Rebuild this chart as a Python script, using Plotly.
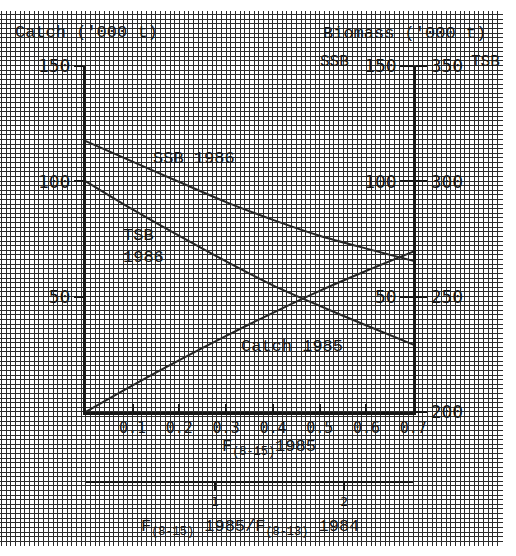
import plotly.graph_objects as go

# Fishing mortality (ages 8-15) and the projected quantities
F = [0.0, 0.1, 0.2, 0.3, 0.4, 0.5, 0.6, 0.7]
catch_1985 = [0.0, 11.5, 22.5, 33.0, 43.0, 52.5, 61.2, 69.5]      # '000 t
ssb_1986 = [117.4, 108.5, 99.7, 91.0, 83.3, 76.4, 70.8, 65.5]       # '000 t
tsb_1986 = [300.0, 287.8, 276.3, 265.3, 254.9, 246.0, 237.5, 229.2]  # '000 t

# reference mean F of 1984, used for the ratio scale under the F axis
f_1984 = 0.276

x_ticks = [0.1, 0.2, 0.3, 0.4, 0.5, 0.6, 0.7]
x_ticktext = ["0.1", "0.2", "0.3", "0.4", "0.5", "0.6", "0.7"]
catch_ticks = [50, 100, 150]
ssb_ticks = [50, 100, 150]
tsb_ticks = [200, 250, 300, 350]
ratio_ticks = [1, 2]

W, H = 516, 556
INK = "#161616"
MONO = "Liberation Mono, Courier New, monospace"
NUM = "DejaVu Sans Mono, Liberation Mono, monospace"


def px(x):
    return x / W


def py(y):
    return 1 - y / H


fig = go.Figure()

# graph-paper background: a full-page helper axis pair carrying only gridlines
fig.add_trace(go.Scatter(x=[], y=[], xaxis="x", yaxis="y",
                         hoverinfo="skip", showlegend=False))

line_style = dict(color="#262626", width=2, shape="spline", smoothing=0.8)
fig.add_trace(go.Scatter(x=F, y=catch_1985, mode="lines", line=line_style,
                         xaxis="x2", yaxis="y2", name="Catch 1985", showlegend=False))
fig.add_trace(go.Scatter(x=F, y=tsb_1986, mode="lines", line=line_style,
                         xaxis="x2", yaxis="y3", name="TSB 1986", showlegend=False))
fig.add_trace(go.Scatter(x=F, y=ssb_1986, mode="lines", line=line_style,
                         xaxis="x2", yaxis="y4", name="SSB 1986", showlegend=False))
# ratio axis holder
fig.add_trace(go.Scatter(x=[], y=[], xaxis="x3", yaxis="y2",
                         hoverinfo="skip", showlegend=False))

x_dom = [px(88), px(424)]
y_dom = [py(416.7), py(57)]
f_max = 0.7001

grid_color = "#2b2b2b"
fig.update_layout(
    width=W, height=H,
    margin=dict(l=0, r=0, t=0, b=0, pad=0),
    paper_bgcolor="white",
    plot_bgcolor="rgba(0,0,0,0)",
    showlegend=False,
    font=dict(family=MONO, color=INK, size=15),
    xaxis=dict(domain=[0, 1], range=[0, W], showgrid=True, gridcolor=grid_color,
               gridwidth=1, dtick=4.8, tick0=88, showticklabels=False,
               zeroline=False, showline=False, ticks="", fixedrange=True),
    yaxis=dict(domain=[0, 1], range=[H, 0], showgrid=True, gridcolor=grid_color,
               gridwidth=1, dtick=4.8, tick0=416.7, showticklabels=False,
               zeroline=False, showline=False, ticks="", fixedrange=True),
    xaxis2=dict(domain=x_dom, range=[0, f_max], anchor="y2",
                tickmode="array", tickvals=x_ticks, ticktext=x_ticktext,
                ticks="inside", ticklen=8, tickwidth=2, tickcolor=INK,
                showline=True, linecolor=INK, linewidth=2.5,
                showgrid=False, zeroline=False,
                tickfont=dict(family=NUM, size=15, color=INK)),
    yaxis2=dict(domain=y_dom, range=[0, 150.05], anchor="x2",
                tickmode="array", tickvals=catch_ticks,
                ticks="outside", ticklen=9, tickwidth=2, tickcolor=INK,
                showline=True, linecolor=INK, linewidth=2.5,
                showgrid=False, zeroline=False,
                tickfont=dict(family=NUM, size=18, color=INK)),
    yaxis3=dict(range=[200, 350.05], overlaying="y2", side="right", anchor="x2",
                tickmode="array", tickvals=tsb_ticks,
                ticks="outside", ticklen=11, tickwidth=2, tickcolor=INK,
                showline=True, linecolor=INK, linewidth=2.5,
                showgrid=False, zeroline=False,
                tickfont=dict(family=NUM, size=18, color=INK)),
    # SSB scale: labelled on the left-hand side of the right border
    yaxis4=dict(range=[0, 150.05], overlaying="y2", side="left",
                anchor="free", position=x_dom[1],
                tickmode="array", tickvals=ssb_ticks,
                ticks="outside", ticklen=13, tickwidth=2, tickcolor=INK,
                showline=False, showgrid=False, zeroline=False,
                tickfont=dict(family=NUM, size=18, color=INK)),
    xaxis3=dict(range=[0, f_max / f_1984], overlaying="x2", anchor="free",
                position=py(489), side="bottom",
                tickmode="array", tickvals=ratio_ticks,
                ticks="outside", ticklen=8, tickwidth=2, tickcolor=INK,
                showline=True, linecolor=INK, linewidth=2,
                showgrid=False, zeroline=False,
                tickfont=dict(family=NUM, size=13, color=INK)),
)

annotations = [
    ("Catch ('000 t)", 13, 22, 17),
    ("Biomass ('000 t)", 329, 23, 17),
    ("SSB", 326, 53, 16),
    ("TSB", 481, 53, 16),
    ("SSB 1986", 155, 153, 17),
    ("TSB<br>1986", 124, 245, 17),
    ("Catch 1985", 245, 349, 17),
    ("F<sub>(8-15)</sub>1985", 226, 454, 17),
    ("F\u0304<sub>(8-15)</sub> 1985/F\u0304<sub>(8-13)</sub> 1984", 143, 537, 17),
]
for text, x, y, size in annotations:
    fig.add_annotation(text=text, xref="paper", yref="paper", x=px(x), y=py(y),
                       xanchor="left", yanchor="middle", showarrow=False,
                       align="left", font=dict(family=MONO, size=size, color=INK),
                       bgcolor="rgba(255,255,255,0)")

fig.write_html("out.html")
